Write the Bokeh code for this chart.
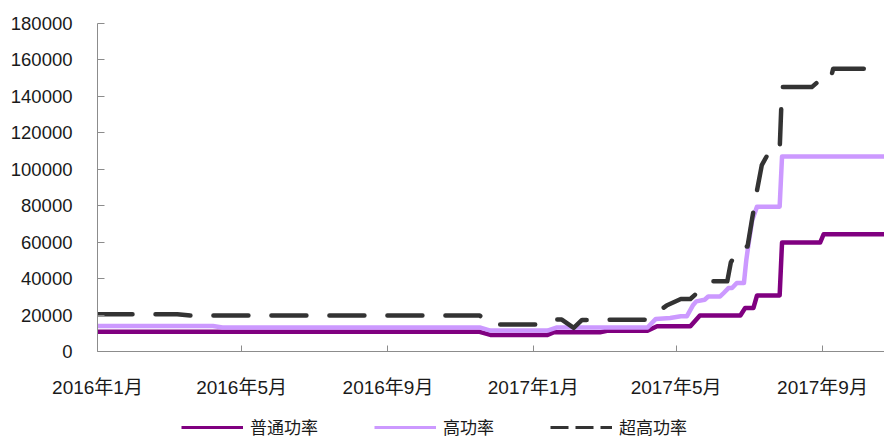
import pandas as pd
from bokeh.plotting import figure
from bokeh.layouts import column
from bokeh.models import (Range1d, FixedTicker, BasicTickFormatter, Legend, LegendItem,
                          CustomJSTickFormatter)
from bokeh.embed import file_html
from bokeh.resources import INLINE

# ---- data ----
tick_dates = ["2016-01-01", "2016-05-01", "2016-09-01", "2017-01-01", "2017-05-01", "2017-09-01"]
tick_labels = ["2016年1月", "2016年5月", "2016年9月", "2017年1月", "2017年5月", "2017年9月"]
y_ticks = [0, 20000, 40000, 60000, 80000, 100000, 120000, 140000, 160000, 180000]

series_names = ["普通功率", "高功率", "超高功率"]

rp_dates = ["2016-01-01", "2016-11-17", "2016-11-26", "2017-01-13", "2017-01-18", "2017-02-26",
            "2017-03-04", "2017-04-07", "2017-04-15", "2017-05-13", "2017-05-21", "2017-06-24",
            "2017-06-28", "2017-07-05", "2017-07-08", "2017-07-27", "2017-07-29", "2017-08-30",
            "2017-09-02", "2017-10-23"]
rp_values = [10800, 10800, 9100, 9100, 10500, 10500,
             11400, 11400, 13850, 13850, 19800, 19800,
             23900, 23900, 30800, 30800, 59800, 59800,
             64400, 64400]

hp_dates = ["2016-01-01", "2016-04-07", "2016-04-15", "2016-11-17", "2016-11-26", "2017-01-13",
            "2017-01-21", "2017-04-07", "2017-04-14", "2017-04-26", "2017-05-05", "2017-05-10",
            "2017-05-15", "2017-05-18", "2017-05-25", "2017-05-28", "2017-06-07", "2017-06-10",
            "2017-06-14", "2017-06-17", "2017-06-21", "2017-06-27", "2017-06-29", "2017-07-01",
            "2017-07-04", "2017-07-08", "2017-07-27", "2017-07-29", "2017-10-23"]
hp_values = [14000, 14000, 13200, 13200, 11500, 11500,
             13200, 13200, 17900, 18400, 19300, 19300,
             25200, 27500, 28400, 30200, 30200, 32100,
             34800, 34800, 37600, 37600, 50300, 59600,
             72200, 79500, 79500, 107000, 107000]

uhp_dates = ["2016-01-01", "2016-03-08", "2016-03-19", "2016-11-17", "2016-11-26", "2017-01-09",
             "2017-01-20", "2017-01-25", "2017-02-04", "2017-02-11", "2017-04-07", "2017-04-23",
             "2017-05-05", "2017-05-13", "2017-05-20", "2017-06-01", "2017-06-13", "2017-06-16",
             "2017-06-24", "2017-06-30", "2017-07-04", "2017-07-07", "2017-07-12", "2017-07-19",
             "2017-07-27", "2017-07-29", "2017-08-23", "2017-08-28", "2017-09-07", "2017-09-10",
             "2017-10-23"]
uhp_values = [20500, 20500, 19700, 19700, 14800, 14800,
              17500, 17500, 13000, 17300, 17500, 25200,
              28800, 28800, 33000, 38500, 38500, 48900,
              57600, 57600, 73300, 85000, 102300, 110500,
              110500, 145100, 145100, 147900, 147900, 155200,
              155200]

colors = ["#800080", "#CC99FF", "#333333"]

# ---- main figure ----
x_start = pd.Timestamp("2016-01-01")
x_end = x_start + pd.Timedelta(days=661.07)

p = figure(width=884, height=400, x_axis_type="datetime",
           x_range=Range1d(x_start, x_end), y_range=Range1d(0, 180000),
           output_backend="svg", toolbar_location=None,
           min_border_left=97, min_border_right=0, min_border_top=23, min_border_bottom=48)
p.outline_line_color = None
p.xgrid.grid_line_color = None
p.ygrid.grid_line_color = None
p.background_fill_color = "white"
p.border_fill_color = "white"

tick_font = "Liberation Sans, Noto Sans CJK SC"
axis_color = "#8c8c8c"

# x axis
tick_ms = [int(pd.Timestamp(d).value // 10**6) for d in tick_dates]
p.xaxis.ticker = FixedTicker(ticks=tick_ms)
p.xaxis.formatter = CustomJSTickFormatter(
    args=dict(m={str(t): l for t, l in zip(tick_ms, tick_labels)}),
    code="const k = String(Math.round(tick)); return (k in m) ? m[k] : '';")
p.xaxis.axis_line_color = axis_color
p.xaxis.major_tick_line_color = axis_color
p.xaxis.major_tick_in = 6
p.xaxis.major_tick_out = 0
p.xaxis.minor_tick_line_color = None
p.xaxis.major_label_standoff = 25
p.xaxis.major_label_text_font = tick_font
p.xaxis.major_label_text_font_size = "19px"
p.xaxis.major_label_text_color = "#1a1a1a"

# y axis
p.yaxis.ticker = FixedTicker(ticks=y_ticks)
p.yaxis.formatter = BasicTickFormatter(use_scientific=False)
p.yaxis.axis_line_color = axis_color
p.yaxis.major_tick_line_color = axis_color
p.yaxis.major_tick_in = 7
p.yaxis.major_tick_out = 0
p.yaxis.minor_tick_line_color = None
p.yaxis.major_label_standoff = 25
p.yaxis.major_label_text_font = tick_font
p.yaxis.major_label_text_font_size = "18.5px"
p.yaxis.major_label_text_color = "#1a1a1a"

# series
p.line(pd.to_datetime(rp_dates), rp_values, line_color=colors[0], line_width=4.5,
       line_join="round")
p.line(pd.to_datetime(hp_dates), hp_values, line_color=colors[1], line_width=4.5,
       line_join="round")
p.line(pd.to_datetime(uhp_dates), uhp_values, line_color=colors[2], line_width=4.5,
       line_join="round", line_cap="round", line_dash="35 23")

# ---- legend strip (separate small figure below the chart) ----
q = figure(width=884, height=41, x_range=Range1d(0, 1), y_range=Range1d(0, 1),
           output_backend="svg", toolbar_location=None,
           x_axis_location=None, y_axis_location=None,
           min_border_left=0, min_border_right=0, min_border_top=0, min_border_bottom=0)
q.outline_line_color = None
q.xgrid.grid_line_color = None
q.ygrid.grid_line_color = None
q.border_fill_color = "white"

nan = float("nan")
l0 = q.line([nan], [nan], line_color=colors[0], line_width=3)
l1 = q.line([nan], [nan], line_color=colors[1], line_width=3)
l2 = q.line([nan], [nan], line_color=colors[2], line_width=3, line_dash="18 7")

legend = Legend(items=[LegendItem(label=series_names[0], renderers=[l0]),
                       LegendItem(label=series_names[1], renderers=[l1]),
                       LegendItem(label=series_names[2], renderers=[l2])],
                orientation="horizontal", location=(84, 2),
                padding=0, margin=0, spacing=56,
                glyph_width=62, glyph_height=20, label_height=20, label_standoff=7,
                label_text_font="Noto Sans CJK SC", label_text_font_size="17px",
                label_text_color="#1a1a1a",
                border_line_alpha=0, background_fill_alpha=0)
q.add_layout(legend)

layout = column(p, q, spacing=0)
open("out.html", "w").write(file_html(layout, INLINE))
